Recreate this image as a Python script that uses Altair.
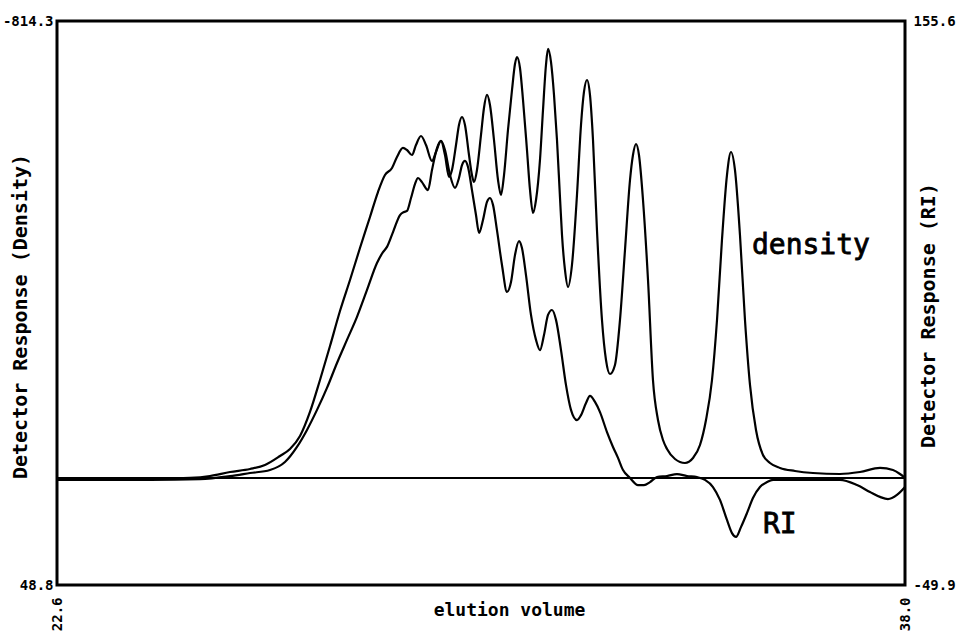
import altair as alt
import pandas as pd

# Elution volume / detector readings for the density trace
volume_density = [
    22.600, 23.381, 24.289, 25.015, 25.378, 25.742, 26.105, 26.377, 26.650, 26.831,
    27.013, 27.194, 27.376, 27.558, 27.739, 27.921, 28.102, 28.284, 28.429, 28.556,
    28.684, 28.774, 28.883, 28.956, 29.047, 29.119, 29.210, 29.301, 29.410, 29.483,
    29.573, 29.646, 29.719, 29.773, 29.846, 29.900, 29.955, 30.009, 30.082, 30.136,
    30.173, 30.227, 30.300, 30.354, 30.409, 30.463, 30.536, 30.609, 30.663, 30.718,
    30.790, 30.863, 30.917, 30.954, 31.008, 31.063, 31.135, 31.190, 31.244, 31.299,
    31.371, 31.426, 31.480, 31.517, 31.571, 31.626, 31.680, 31.734, 31.771, 31.825,
    31.880, 31.952, 32.043, 32.116, 32.170, 32.225, 32.279, 32.334, 32.406, 32.497,
    32.570, 32.642, 32.733, 32.824, 32.915, 33.006, 33.060, 33.115, 33.169, 33.242,
    33.333, 33.423, 33.514, 33.605, 33.678, 33.823, 34.004, 34.150, 34.277, 34.386,
    34.495, 34.586, 34.676, 34.767, 34.840, 34.912, 35.003, 35.094, 35.185, 35.294,
    35.421, 35.548, 35.730, 36.002, 36.329, 36.819, 37.182, 37.546, 37.782, 37.909,
    38.000,
]
density = [
    -113.4, -113.4, -113.4, -115.0, -118.0, -124.1, -128.7, -134.8, -148.6, -159.3,
    -179.2, -216.0, -264.9, -316.9, -370.5, -418.0, -466.9, -514.4, -552.6, -578.6,
    -589.3, -606.2, -620.0, -616.9, -609.2, -624.5, -638.3, -624.5, -600.1, -613.8,
    -630.7, -609.2, -575.6, -586.3, -624.5, -655.2, -667.4, -655.2, -609.2, -578.6,
    -567.9, -586.3, -639.9, -681.2, -701.1, -685.8, -632.2, -571.0, -548.0, -578.6,
    -647.5, -708.7, -748.5, -759.2, -742.4, -693.4, -616.9, -555.7, -520.5, -540.4,
    -601.6, -678.1, -747.0, -771.5, -751.6, -701.1, -632.2, -545.0, -486.8, -433.3,
    -407.2, -440.9, -548.0, -655.2, -705.7, -724.0, -701.1, -632.2, -494.5, -356.7,
    -295.5, -274.1, -287.9, -356.7, -463.9, -571.0, -609.2, -626.1, -609.2, -540.4,
    -418.0, -264.9, -203.7, -173.1, -159.3, -144.0, -137.9, -145.6, -165.4, -203.7,
    -264.9, -356.7, -479.2, -578.6, -613.8, -586.3, -486.8, -356.7, -257.3, -188.4,
    -150.1, -137.9, -130.3, -125.7, -122.6, -121.1, -124.1, -130.3, -127.2, -121.1,
    -115.0,
]

# Elution volume / detector readings for the refractive-index trace
volume_ri = [
    22.600, 24.289, 25.197, 25.742, 26.105, 26.468, 26.740, 26.958, 27.140, 27.322,
    27.503, 27.685, 27.866, 28.048, 28.230, 28.411, 28.520, 28.593, 28.702, 28.829,
    28.902, 28.956, 29.029, 29.101, 29.156, 29.228, 29.337, 29.410, 29.501, 29.573,
    29.646, 29.737, 29.828, 29.900, 29.955, 30.009, 30.064, 30.136, 30.209, 30.264,
    30.336, 30.409, 30.463, 30.518, 30.590, 30.681, 30.772, 30.845, 30.917, 30.990,
    31.044, 31.117, 31.208, 31.299, 31.371, 31.444, 31.517, 31.589, 31.662, 31.753,
    31.843, 31.934, 32.043, 32.116, 32.207, 32.279, 32.370, 32.461, 32.588, 32.697,
    32.788, 32.879, 33.006, 33.151, 33.260, 33.369, 33.496, 33.678, 33.859, 34.041,
    34.222, 34.368, 34.513, 34.640, 34.767, 34.858, 34.931, 35.021, 35.130, 35.239,
    35.366, 35.494, 35.603, 36.093, 36.819, 37.128, 37.364, 37.546, 37.691, 37.854,
    38.000,
]
ri = [
    -11.6, -11.6, -11.3, -10.2, -9.1, -8.0, -5.1, 0.4, 6.6, 13.9,
    21.9, 31.0, 39.4, 47.8, 57.6, 67.4, 71.4, 73.3, 78.7, 84.9,
    86.0, 86.4, 91.1, 96.2, 98.4, 96.9, 94.0, 101.3, 109.3, 111.9,
    108.6, 99.5, 94.8, 98.4, 103.1, 104.6, 102.4, 94.0, 84.9, 78.4,
    83.1, 89.7, 91.1, 88.6, 79.4, 66.7, 56.9, 60.5, 70.3, 75.4,
    72.9, 63.0, 48.5, 39.4, 35.7, 41.2, 48.5, 50.3, 46.7, 35.7,
    23.0, 13.9, 10.2, 12.0, 16.4, 19.0, 16.8, 13.1, 5.8, 0.4,
    -3.6, -8.0, -10.9, -13.5, -13.5, -12.4, -10.6, -10.2, -9.5, -10.2,
    -10.6, -11.6, -14.2, -18.9, -26.2, -31.0, -32.4, -28.8, -23.7, -18.2,
    -14.2, -12.4, -11.6, -11.6, -11.6, -13.5, -16.0, -17.8, -18.6, -17.1,
    -14.2,
]

# Axis end values and reference baseline
volume_range = [22.6, 38.0]
density_range = [-814.3, 48.8]
ri_range = [-49.9, 155.6]
density_baseline = -114.9

# Trace annotations
density_note = {"volume": 35.22, "value": -470.0, "text": "density"}
ri_note = {"volume": 35.42, "value": -28.0, "text": "RI"}

FONT = "DejaVu Sans Mono"
W, H = 848, 564

dens_df = pd.DataFrame({"volume": volume_density, "value": density})
ri_df = pd.DataFrame({"volume": volume_ri, "value": ri})
dens_note_df = pd.DataFrame([density_note])
ri_note_df = pd.DataFrame([ri_note])

label_expr = ("datum.value < 0 ? '-' + format(-datum.value, '.1f') "
              ": format(datum.value, '.1f')")

x_scale = alt.Scale(domain=volume_range, nice=False, zero=False)
dens_scale = alt.Scale(domain=density_range, reverse=True, nice=False, zero=False)
ri_scale = alt.Scale(domain=ri_range, nice=False, zero=False)

common = dict(
    labelExpr=label_expr, labelFont=FONT, labelFontSize=14, labelFontWeight="bold",
    labelColor="black", labelFlush=False, ticks=False, domain=False, grid=False,
    titleFont=FONT, titleFontWeight="bold", titleColor="black",
    titleAlign="center", titleBaseline="middle",
)
x_axis = alt.Axis(
    values=volume_range, labelAngle=270, labelPadding=12,
    title="elution volume", titleFontSize=18, titleX=452, titleY=25, **common,
)
dens_axis = alt.Axis(
    orient="left", values=density_range, labelPadding=4,
    title="Detector Response (Density)", titleFontSize=20, titleAngle=270,
    titleX=-37, titleY=295, **common,
)
ri_axis = alt.Axis(
    orient="right", values=ri_range, labelPadding=8,
    title="Detector Response (RI)", titleFontSize=20, titleAngle=270,
    titleX=23, titleY=294, **common,
)

X = alt.X("volume:Q", scale=x_scale, axis=x_axis)
Y_DENS = alt.Y("value:Q", scale=dens_scale, axis=dens_axis)
Y_RI = alt.Y("value:Q", scale=ri_scale, axis=ri_axis)

# Annotation text: regular weight with a thin outline for a medium stroke
note_style = dict(
    font=FONT, fontSize=28, align="left", baseline="middle",
    color="black", stroke="black", strokeWidth=0.8,
)

dens_line = alt.Chart(dens_df).mark_line(
    color="black", strokeWidth=2.2, interpolate="monotone"
).encode(x=X, y=Y_DENS)

baseline = alt.Chart(dens_df).mark_rule(color="black", strokeWidth=2).encode(
    y=alt.Y(datum=density_baseline, type="quantitative", scale=dens_scale, axis=dens_axis),
)

dens_text = alt.Chart(dens_note_df).mark_text(**note_style).encode(
    x=X, y=Y_DENS, text="text:N"
)

ri_line = alt.Chart(ri_df).mark_line(
    color="black", strokeWidth=2.2, interpolate="monotone"
).encode(x=X, y=Y_RI)

ri_text = alt.Chart(ri_note_df).mark_text(**note_style).encode(
    x=X, y=Y_RI, text="text:N"
)

chart = (
    alt.layer(
        alt.layer(dens_line, baseline, dens_text),
        alt.layer(ri_line, ri_text),
    )
    .resolve_scale(y="independent")
    .properties(
        width=W, height=H,
        autosize=alt.AutoSizeParams(type="none"),
        padding={"left": 57, "top": 21, "right": 55, "bottom": 49},
        background="white",
    )
    .configure_view(stroke="black", strokeWidth=3)
)

chart.save("out.html", embed_options={"renderer": "svg", "actions": False})
